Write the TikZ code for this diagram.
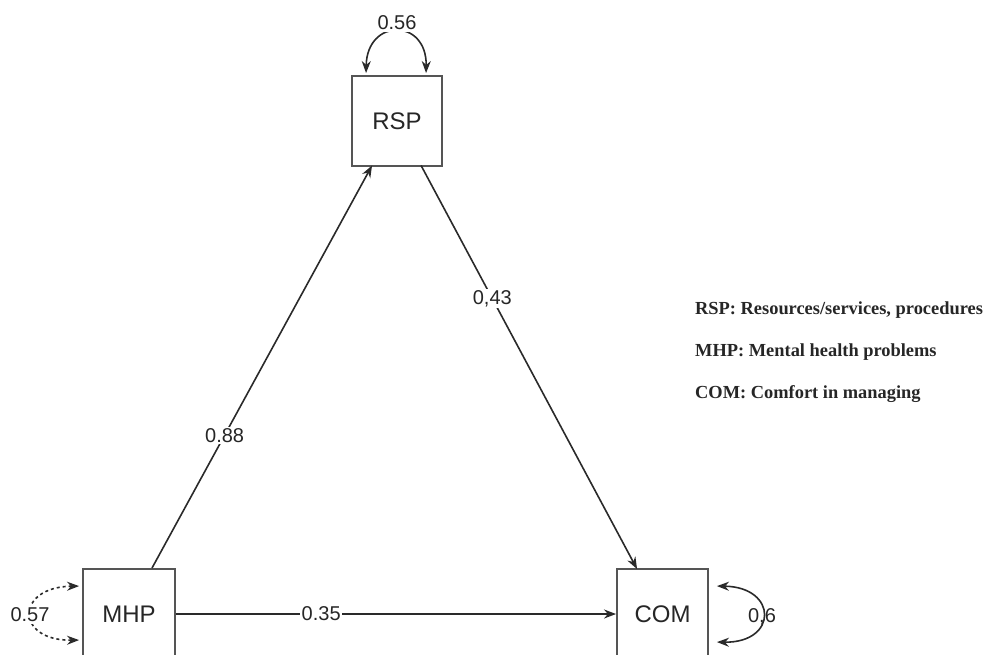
\documentclass[tikz,border=0pt]{standalone}
\usepackage{fontspec}
\setmainfont{Liberation Sans}
\newfontfamily\legendfont{Liberation Serif}
\usetikzlibrary{arrows.meta,calc}
\definecolor{boxgray}{HTML}{555555}
\definecolor{linegray}{HTML}{2A2A2A}
\definecolor{txtgray}{HTML}{262626}
\tikzset{
  varbox/.style={draw=boxgray, line width=1.9pt, inner sep=0pt, minimum width=90pt, minimum height=90pt,
    font=\fontsize{24}{26}\selectfont, text=txtgray},
  pathline/.style={draw=linegray, line width=1.6pt, -{Stealth[length=12pt,width=9pt]}},
  varloop/.style={draw=linegray, line width=1.6pt, {Stealth[length=12pt,width=9pt]}-{Stealth[length=12pt,width=9pt]}},
  coef/.style={fill=white, inner sep=1.5pt, font=\fontsize{20}{22}\selectfont, text=txtgray},
  legend/.style={anchor=west, inner sep=0pt, font=\legendfont\bfseries\fontsize{18.4}{20}\selectfont, text=txtgray}
}
\begin{document}
\begin{tikzpicture}[x=1pt,y=-1pt]
\useasboundingbox (0,0) rectangle (987,654);
\clip (0,0) rectangle (987,654);

\node[varbox, minimum width=90pt, minimum height=90pt] (RSP) at (397,121) {RSP};
\node[varbox, minimum width=92pt, minimum height=90pt] (MHP) at (129,614) {MHP};
\node[varbox, minimum width=91pt, minimum height=90pt] (COM) at (662.5,614) {COM};

% structural paths
\draw[pathline] ($(MHP.north)+(23,0)$) -- node[coef, pos=0.33] (c88) {0.88} ($(RSP.south west)+(21,-1.5)$);
\draw[pathline] ($(RSP.south west)+(70,-1.5)$) -- node[coef, pos=0.33] (c43) {0,43} ($(COM.north west)+(21,1)$);
\draw[pathline] (MHP.east |- MHP.center) -- node[coef, pos=0.33] (c35) {0.35} (COM.west |- COM.center);

% variances
\draw[varloop] ($(RSP.north west)+(15,-2)$) .. controls (367,18) and (427,18) .. ($(RSP.north west)+(75,-2)$);
\node[coef] (v56) at (397,23) {0.56};

\draw[varloop, dashed] ($(MHP.north west)+(-3,18)$) .. controls (15,587) and (15,641) .. ($(MHP.north west)+(-3,72)$);
\node[coef] (v57) at (30,615) {0.57};

\draw[varloop] ($(COM.north east)+(8,18)$) .. controls (778,587) and (778,643) .. ($(COM.north east)+(8,74)$);
\node[coef, fill=none] (v6) at (762,617) {0,6};

% legend
\node[legend] (l1) at (695,310) {RSP: Resources/services, procedures};
\node[legend] (l2) at (695,352) {MHP: Mental health problems};
\node[legend] (l3) at (695,394) {COM: Comfort in managing};
\end{tikzpicture}
\end{document}
